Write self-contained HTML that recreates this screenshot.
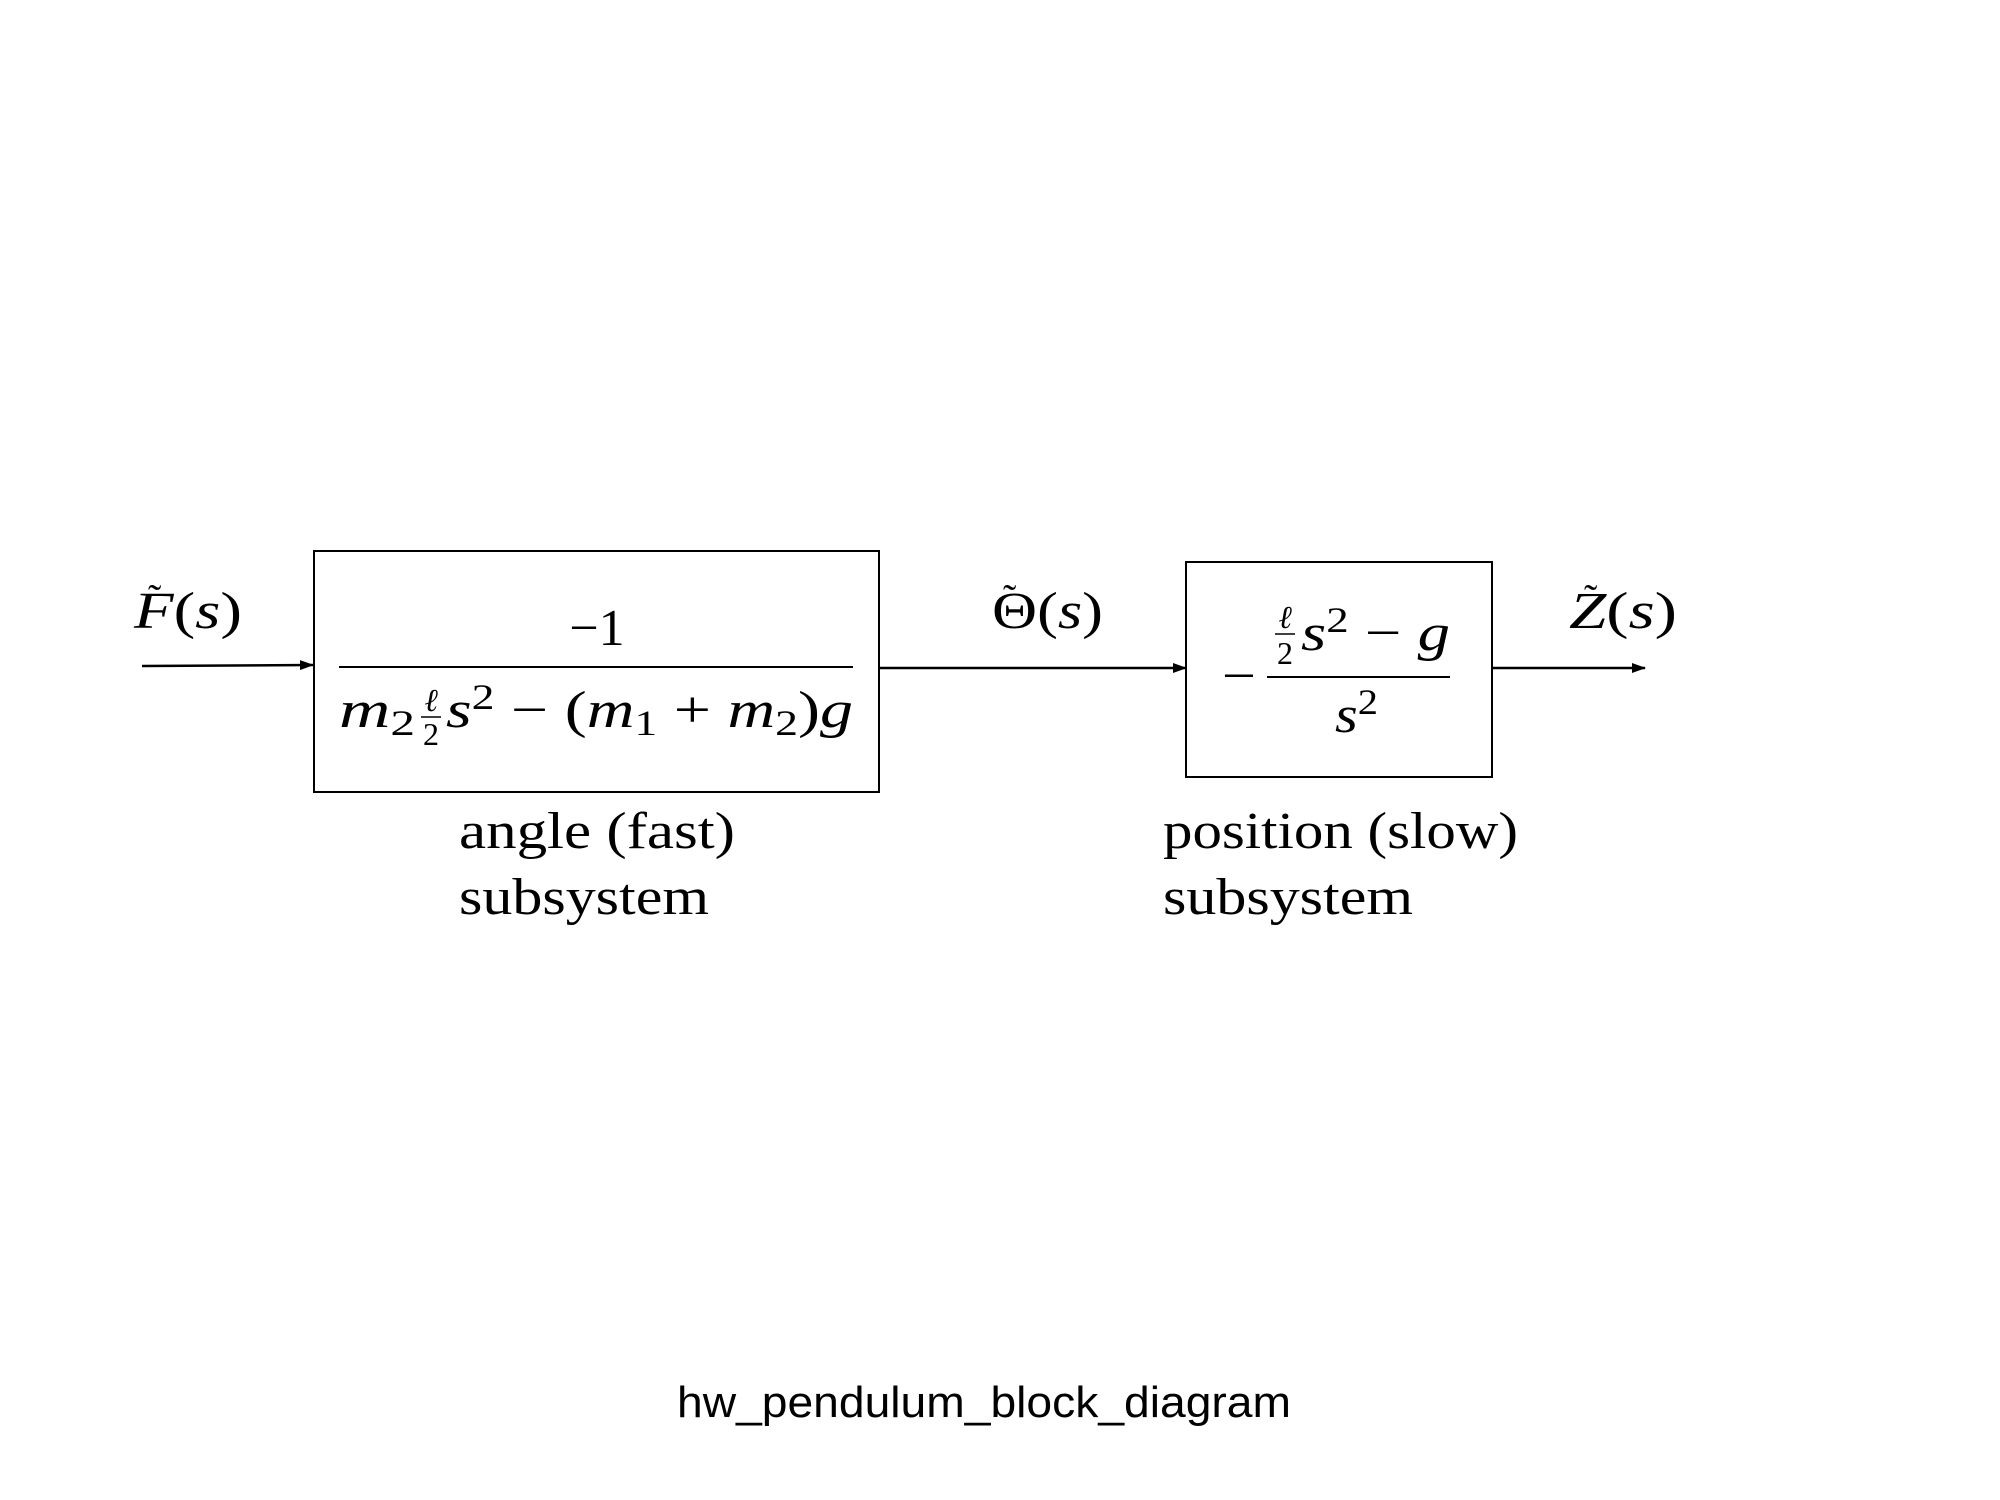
<!DOCTYPE html>
<html><head><meta charset="utf-8"><style>html,body{margin:0;padding:0;background:#fff}svg{display:block}</style></head>
<body>
<svg width="2000" height="1500" viewBox="0 0 2000 1500" xmlns="http://www.w3.org/2000/svg">
<defs><marker id="ah" markerWidth="14" markerHeight="10" refX="13" refY="5" orient="auto" markerUnits="userSpaceOnUse"><path d="M0,0 L14,5 L0,10 Z" fill="#000"/></marker></defs>
<g font-family="'Liberation Serif', serif" fill="#000">
<g><text x="134" y="628" font-size="52" textLength="108" lengthAdjust="spacingAndGlyphs"><tspan font-style="italic">F</tspan>(<tspan font-style="italic">s</tspan>)</text><text x="148" y="612" font-size="40">˜</text></g>
<line x1="142" y1="666" x2="313" y2="665" stroke="#000" stroke-width="2.5" marker-end="url(#ah)"/>
<rect x="314" y="551" width="565" height="241" fill="none" stroke="#000" stroke-width="2"/>
<text x="597" y="645" font-size="52" text-anchor="middle">−1</text>
<line x1="339" y1="667" x2="853" y2="667" stroke="#000" stroke-width="2"/>
<g>
<text x="339" y="727" font-size="52" textLength="76" lengthAdjust="spacingAndGlyphs"><tspan font-style="italic">m</tspan><tspan font-size="36" dy="8">2</tspan></text>
<text x="431" y="711" font-size="32" font-style="italic" text-anchor="middle">ℓ</text>
<line x1="421" y1="717" x2="441" y2="717" stroke="#000" stroke-width="1.5"/>
<text x="431" y="745" font-size="32" text-anchor="middle">2</text>
<text x="446" y="727" font-size="52" textLength="407" lengthAdjust="spacingAndGlyphs"><tspan font-style="italic">s</tspan><tspan font-size="36" dy="-18">2</tspan><tspan dy="18"> − (</tspan><tspan font-style="italic">m</tspan><tspan font-size="36" dy="8">1</tspan><tspan dy="-8"> + </tspan><tspan font-style="italic">m</tspan><tspan font-size="36" dy="8">2</tspan><tspan dy="-8">)</tspan><tspan font-style="italic">g</tspan></text>
</g>
<g><text x="992" y="628" font-size="52" textLength="111" lengthAdjust="spacingAndGlyphs">Θ(<tspan font-style="italic">s</tspan>)</text><text x="1003" y="612" font-size="40">˜</text></g>
<line x1="879" y1="668" x2="1186" y2="668" stroke="#000" stroke-width="2.5" marker-end="url(#ah)"/>
<rect x="1186" y="562" width="306" height="215" fill="none" stroke="#000" stroke-width="2"/>
<text x="1222" y="693" font-size="52" textLength="34" lengthAdjust="spacingAndGlyphs">−</text>
<g>
<text x="1285" y="628" font-size="32" font-style="italic" text-anchor="middle">ℓ</text>
<line x1="1275" y1="634" x2="1295" y2="634" stroke="#000" stroke-width="1.5"/>
<text x="1285" y="664" font-size="32" text-anchor="middle">2</text>
<text x="1301" y="650" font-size="52" textLength="149" lengthAdjust="spacingAndGlyphs"><tspan font-style="italic">s</tspan><tspan font-size="36" dy="-18">2</tspan><tspan dy="18"> − </tspan><tspan font-style="italic">g</tspan></text>
</g>
<line x1="1267" y1="677" x2="1450" y2="677" stroke="#000" stroke-width="2"/>
<text x="1335" y="732" font-size="52" textLength="43" lengthAdjust="spacingAndGlyphs"><tspan font-style="italic">s</tspan><tspan font-size="36" dy="-18">2</tspan></text>
<line x1="1492" y1="668" x2="1645" y2="668" stroke="#000" stroke-width="2.5" marker-end="url(#ah)"/>
<g><text x="1569" y="628" font-size="52" textLength="108" lengthAdjust="spacingAndGlyphs"><tspan font-style="italic">Z</tspan>(<tspan font-style="italic">s</tspan>)</text><text x="1584" y="612" font-size="40">˜</text></g>
<text x="459" y="848" font-size="52" textLength="276" lengthAdjust="spacingAndGlyphs">angle (fast)</text>
<text x="459" y="914" font-size="52" textLength="250" lengthAdjust="spacingAndGlyphs">subsystem</text>
<text x="1163" y="848" font-size="52" textLength="355" lengthAdjust="spacingAndGlyphs">position (slow)</text>
<text x="1163" y="914" font-size="52" textLength="250" lengthAdjust="spacingAndGlyphs">subsystem</text>
</g>
<text x="984" y="1417" font-family="'Liberation Sans', sans-serif" font-size="44" text-anchor="middle" textLength="614" lengthAdjust="spacingAndGlyphs">hw_pendulum_block_diagram</text>
</svg>
</body></html>
